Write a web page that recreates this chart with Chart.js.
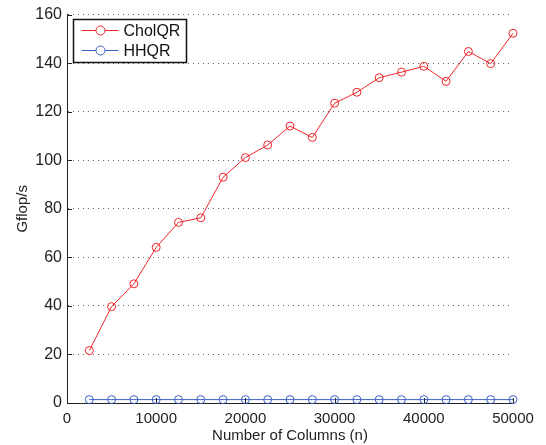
<!DOCTYPE html>
<html lang="en">
<head>
<meta charset="UTF-8" />
<title>CholQR vs HHQR</title>
<script src="https://cdn.jsdelivr.net/npm/chart.js@4.4.1/dist/chart.umd.min.js"></script>
<style>
  html, body { margin: 0; padding: 0; background: #fff; }
  #wrap { width: 546px; height: 445px; }
</style>
</head>
<body>
<div id="wrap"><canvas id="myChart" width="546" height="445"></canvas></div>
<script>
// values
const columns = [2500, 5000, 7500, 10000, 12500, 15000, 17500, 20000, 22500, 25000,
                 27500, 30000, 32500, 35000, 37500, 40000, 42500, 45000, 47500, 50000];
const cholqr = [21.6, 39.7, 49.1, 64.1, 74.4, 76.3, 93.0, 101.1, 106.3, 114.1,
                109.4, 123.5, 128.0, 134.0, 136.3, 138.7, 132.5, 144.8, 139.8, 152.3];
const hhqr = [1.4, 1.4, 1.4, 1.4, 1.4, 1.4, 1.4, 1.4, 1.4, 1.4,
              1.4, 1.4, 1.4, 1.4, 1.4, 1.4, 1.4, 1.4, 1.4, 1.4];
const xTicks = [0, 10000, 20000, 30000, 40000, 50000];
const yTicks = [0, 20, 40, 60, 80, 100, 120, 140, 160];

const RED = "#f0252a";
const BLUE = "#3d5fc4";
const FONT = "'Liberation Sans', Arial, sans-serif";

// inward tick marks + legend box inside the axes, like the matlab figure
const matlabBits = {
  id: "matlabBits",
  afterDraw(chart) {
    const ctx = chart.ctx;
    const x = chart.scales.x, y = chart.scales.y;
    const area = chart.chartArea;
    ctx.save();
    ctx.strokeStyle = "#222";
    ctx.lineWidth = 1;
    ctx.beginPath();
    xTicks.forEach(v => {
      const px = Math.round(x.getPixelForValue(v)) + 0.5;
      ctx.moveTo(px, area.bottom);
      ctx.lineTo(px, area.bottom - 5);
    });
    yTicks.forEach(v => {
      const py = Math.round(y.getPixelForValue(v)) + 0.5;
      ctx.moveTo(area.left, py);
      ctx.lineTo(area.left + 5, py);
    });
    ctx.stroke();

    // legend
    const bx = 73.5, by = 19.5, bw = 113, bh = 43;
    ctx.fillStyle = "#fff";
    ctx.fillRect(bx, by, bw, bh);
    ctx.strokeStyle = "#111";
    ctx.lineWidth = 1.5;
    ctx.strokeRect(bx, by, bw, bh);
    ctx.font = "16px " + FONT;
    ctx.textBaseline = "middle";
    chart.data.datasets.forEach((ds, i) => {
      const cy = by + 11 + i * 20;
      ctx.strokeStyle = ds.borderColor;
      ctx.lineWidth = 1;
      ctx.beginPath();
      ctx.moveTo(bx + 8, cy);
      ctx.lineTo(bx + 45, cy);
      ctx.stroke();
      ctx.fillStyle = "#fff";
      ctx.beginPath();
      ctx.arc(bx + 27, cy, 4.5, 0, Math.PI * 2);
      ctx.fill();
      ctx.stroke();
      ctx.fillStyle = "#111";
      ctx.fillText(ds.label, bx + 50, cy + 1);
    });
    ctx.restore();
  }
};

function makeSet(label, vals, color) {
  return {
    label: label,
    data: columns.map((c, i) => ({ x: c, y: vals[i] })),
    borderColor: color,
    backgroundColor: "rgba(0,0,0,0)",
    borderWidth: 1,
    pointRadius: 4,
    pointBorderWidth: 1,
    pointBorderColor: color,
    pointBackgroundColor: "rgba(0,0,0,0)",
    tension: 0,
    fill: false,
    clip: false
  };
}

const ctx = document.getElementById("myChart").getContext("2d");
const myChart = new Chart(ctx, {
  type: "line",
  data: {
    datasets: [
      makeSet("CholQR", cholqr, RED),
      makeSet("HHQR", hhqr, BLUE)
    ]
  },
  plugins: [matlabBits],
  options: {
    responsive: false,
    animation: false,
    layout: { padding: { left: 14, right: 33, top: 8, bottom: 0 } },
    plugins: {
      legend: { display: false },
      tooltip: { enabled: false }
    },
    scales: {
      x: {
        type: "linear",
        min: 0,
        max: 50000,
        afterBuildTicks: axis => { axis.ticks = xTicks.map(v => ({ value: v })); },
        afterFit: axis => { axis.height = 42; },
        grid: { display: false, drawTicks: false },
        border: { display: true, color: "#222", width: 1 },
        ticks: {
          color: "#222",
          padding: 7,
          maxRotation: 0,
          font: { family: FONT, size: 15 },
          callback: v => String(v)
        },
        title: {
          display: true,
          text: "Number of Columns (n)",
          color: "#222",
          padding: { top: 0, bottom: 0 },
          font: { family: FONT, size: 15 }
        }
      },
      y: {
        min: 0,
        max: 160,
        afterBuildTicks: axis => { axis.ticks = yTicks.map(v => ({ value: v })); },
        afterFit: axis => { axis.width = 53; },
        grid: {
          drawTicks: false,
          color: ctx2 => ctx2.tick && ctx2.tick.value === 0 ? "rgba(0,0,0,0)" : "#666",
          lineWidth: 1
        },
        border: { display: true, color: "#222", width: 1, dash: [1, 4] },
        ticks: {
          color: "#222",
          padding: 5,
          font: { family: FONT, size: 16 }
        },
        title: {
          display: true,
          text: "Gflop/s",
          color: "#222",
          padding: { top: 0, bottom: 0 },
          font: { family: FONT, size: 15 }
        }
      }
    }
  }
});
</script>
</body>
</html>
